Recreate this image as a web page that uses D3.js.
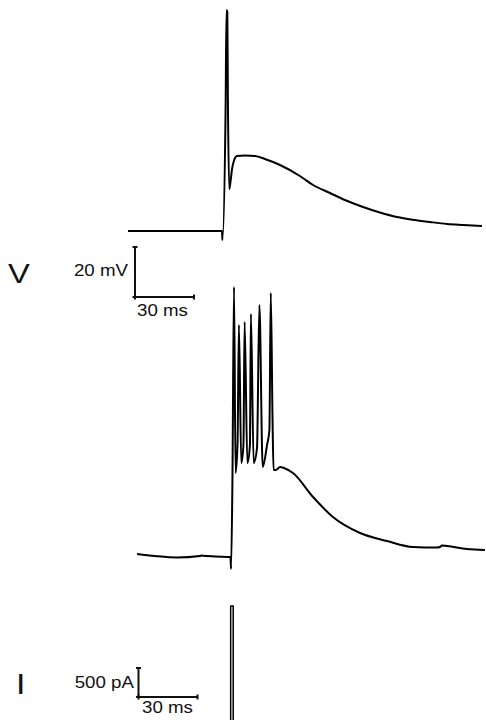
<!doctype html>
<html>
<head>
<meta charset="utf-8">
<title>traces</title>
<script src="https://d3js.org/d3.v7.min.js"></script>
<style>
  body { margin: 0; background: #fff; }
  text { font-family: "Liberation Sans", Arial, sans-serif; fill: #111; }
</style>
</head>
<body>
<script>
// single spike trace (ms, mV)
var topTime = [0, 47.8, 48.0, 49.6, 50.1, 50.5, 50.8, 51.5, 52.1, 52.9, 53.9, 55.4, 59.5, 64.6, 69.6,
  77.3, 87.4, 94.1, 102.7, 110.3, 119.5, 128.1, 136.8, 145.9, 153.5, 162.2, 170.3, 180.0];
var topVolt = [-70, -70, -73.6, -22.8, 18.4, 17.6, -17.6, -53.2, -50.4, -45.2, -41.8, -40, -39.8, -40, -41.2,
  -43.6, -48, -51.6, -54.8, -57.6, -60.4, -62.6, -64.4, -65.6, -66.4, -67.2, -67.6, -68];

// burst trace (ms, mV)
var midTime = [4.6, 13.7, 24.9, 36.6, 37.5, 38.1, 44.2, 52.1, 52.4, 53.1, 53.9, 54.7, 55.7, 56.4, 57.6,
  58.7, 59.3, 60.7, 62.0, 62.5, 63.9, 65.6, 66.8, 68.5, 70.7, 71.9, 72.6, 73.5, 74.0, 75.2, 77.3,
  79.3, 83.9, 94.1, 104.2, 118.0, 131.7, 144.9, 157.1, 158.6, 159.6, 162.2, 172.3, 181.5];
var midVolt = [-69.2, -70, -70.6, -70.0, -69.8, -69.9, -70.2, -70.4, -75.2, -39.6, 37.6, -36.8, -25, 22.4, -32.8,
  -25.6, 23.6, -32.8, -25.6, 26.8, -32.8, -26.8, 30.4, -34.4, -25.6, -19.6, 35.2, -15.6, -35.6, -35.6, -34.4,
  -34.8, -36.8, -46.4, -54.4, -60.8, -64, -66.4, -66.6, -66.4, -65.8, -66, -67.2, -67.6];

// current step (ms, pA)
var curTime = [4.6, 52.2, 52.2, 53.5, 53.5, 181.5];
var curAmp = [0, 0, 2000, 2000, 0, 0];

var width = 486, height = 720;
var sx = 1.17; // glyph stretch

var svg = d3.select("body").append("svg")
    .attr("width", width)
    .attr("height", height);

var x = d3.scaleLinear().domain([0, 180]).range([128, 482]);
var yTop = d3.scaleLinear().domain([-70, 20]).range([231, 6]);
var yMid = d3.scaleLinear().domain([-70, 20]).range([556, 331]);
var yCur = d3.scaleLinear().domain([0, 2000]).range([722, 606]);

function trace(t, v, ys, w, curve) {
  var pts = t.map(function(d, i) { return [d, v[i]]; });
  var line = d3.line()
      .x(function(d) { return x(d[0]); })
      .y(function(d) { return ys(d[1]); })
      .curve(curve);
  svg.append("path")
      .attr("d", line(pts))
      .attr("fill", "none")
      .attr("stroke", "#000")
      .attr("stroke-width", w)
      .attr("stroke-linejoin", "round");
}

trace(topTime, topVolt, yTop, 2, d3.curveMonotoneX);
trace(midTime, midVolt, yMid, 2, d3.curveMonotoneX);
trace(curTime, curAmp, yCur, 1.5, d3.curveLinear);

// scale bars
function scaleBar(x0, y0, hLen, vLen) {
  var g = svg.append("g").attr("stroke", "#111").attr("stroke-width", 2).attr("fill", "none");
  g.append("line").attr("x1", x0).attr("y1", y0).attr("x2", x0).attr("y2", y0 - vLen);
  g.append("line").attr("x1", x0).attr("y1", y0).attr("x2", x0 + hLen).attr("y2", y0);
  g.append("line").attr("x1", x0 - 2.5).attr("y1", y0 - vLen).attr("x2", x0 + 2.5).attr("y2", y0 - vLen);
  g.append("line").attr("x1", x0 - 2.5).attr("y1", y0).attr("x2", x0 + 2.5).attr("y2", y0);
  g.append("line").attr("x1", x0 + hLen).attr("y1", y0 - 2.5).attr("x2", x0 + hLen).attr("y2", y0 + 2.5);
  g.append("line").attr("x1", x0).attr("y1", y0 - 2.5).attr("x2", x0).attr("y2", y0 + 2.5);
}

var ms30 = x(30) - x(0);
scaleBar(135, 297, ms30, yTop(-70) - yTop(-50));
scaleBar(138.5, 697, ms30, yCur(0) - yCur(500));

function label(txt, px, py, size, anchor) {
  svg.append("text")
      .attr("transform", "translate(" + px + "," + py + ") scale(" + sx + ",1)")
      .attr("text-anchor", anchor || "start")
      .style("font-size", size + "px")
      .text(txt);
}

label("20 mV", 128, 276, 16, "end");
label("30 ms", 137, 316, 16);
label("V", 8, 283, 28);
label("500 pA", 134, 688, 16, "end");
label("30 ms", 142, 713, 16);
label("I", 16, 694, 29);
</script>
</body>
</html>
